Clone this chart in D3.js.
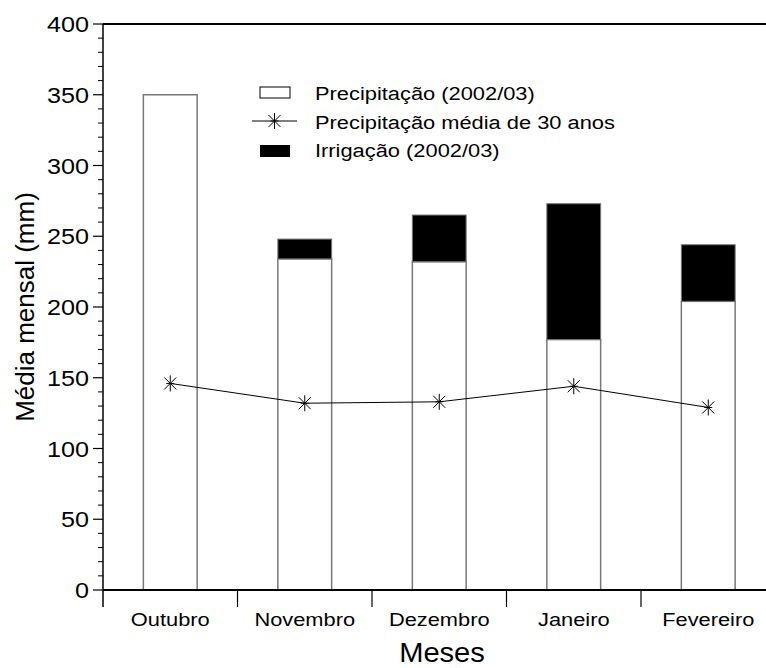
<!DOCTYPE html>
<html>
<head>
<meta charset="utf-8">
<script src="https://cdn.jsdelivr.net/npm/d3@7"></script>
<style>
  body { margin: 0; background: #fff; }
  text { font-family: "Liberation Sans", Arial, sans-serif; fill: #000; }
</style>
</head>
<body>
<div id="chart"></div>
<script>
var width = 766,
    height = 668;

// data
var months = ["Outubro", "Novembro", "Dezembro", "Janeiro", "Fevereiro"];
var precip = [350, 234, 232, 177, 204];
var irrig = [0, 14, 33, 96, 40];
var media30 = [146, 132, 133, 144, 129];
var yTicks = [0, 50, 100, 150, 200, 250, 300, 350, 400];
var legendLabels = ["Precipitação (2002/03)", "Precipitação média de 30 anos", "Irrigação (2002/03)"];

// plot box (right edge lies past the window, as in the original)
var pLeft = 103, pRight = 775.5, pTop = 24, pBottom = 590;
var sx = 1.15; // text in the original is a bit wide

var svg = d3.select('#chart')
    .append('svg')
    .attr('width', width)
    .attr('height', height);

var x = d3.scaleBand().domain(months).range([pLeft, pRight]).padding(0),
    y = d3.scaleLinear().domain([0, 400]).range([pBottom, pTop]);

var bw = x.bandwidth();

function label(g, tx, ty, str, size, anchor, s) {
    return g.append('text')
        .attr('transform', 'translate(' + tx + ',' + ty + ') scale(' + s + ',1)')
        .attr('text-anchor', anchor)
        .style('font-size', size + 'px')
        .text(str);
}

var data = months.map(function (m, i) {
    return {month: m, p: precip[i], irr: irrig[i], avg: media30[i]};
});

// white precipitation bars
svg.selectAll('rect.prec')
    .data(data)
    .enter()
    .append('rect')
    .attr('class', 'prec')
    .attr('x', function (d) { return x(d.month) + bw * 0.3; })
    .attr('width', bw * 0.4)
    .attr('y', function (d) { return y(d.p); })
    .attr('height', function (d) { return y(0) - y(d.p); })
    .attr('fill', '#fff')
    .attr('stroke', '#777')
    .attr('stroke-width', 1.5);

// irrigation stacked on top
svg.selectAll('rect.irr')
    .data(data.filter(function (d) { return d.irr > 0; }))
    .enter()
    .append('rect')
    .attr('class', 'irr')
    .attr('x', function (d) { return x(d.month) + bw * 0.3; })
    .attr('width', bw * 0.4)
    .attr('y', function (d) { return y(d.p + d.irr); })
    .attr('height', function (d) { return y(d.p) - y(d.p + d.irr); })
    .attr('fill', '#000')
    .attr('stroke', '#777')
    .attr('stroke-width', 1);

// 30-year mean line
var line = d3.line()
    .x(function (d) { return x(d.month) + bw / 2; })
    .y(function (d) { return y(d.avg); });

svg.append('path')
    .datum(data)
    .attr('d', line)
    .attr('fill', 'none')
    .attr('stroke', '#000')
    .attr('stroke-width', 1);

function star(g, cx, cy) {
    var r = 8, d = 6;
    var p = 'M' + cx + ',' + (cy - r) + 'V' + (cy + r) +
            'M' + (cx - d) + ',' + (cy - d) + 'L' + (cx + d) + ',' + (cy + d) +
            'M' + (cx - d) + ',' + (cy + d) + 'L' + (cx + d) + ',' + (cy - d) +
            'M' + (cx - 4) + ',' + cy + 'H' + (cx + 4);
    g.append('path').attr('d', p).attr('stroke', '#000').attr('stroke-width', 1).attr('fill', 'none');
}

data.forEach(function (d) {
    star(svg, x(d.month) + bw / 2, y(d.avg));
});

// axes
var axes = svg.append('g');

// top border
axes.append('line')
    .attr('x1', pLeft).attr('x2', pRight)
    .attr('y1', pTop).attr('y2', pTop)
    .attr('stroke', '#000').attr('stroke-width', 1.8);

// y axis line (runs below the x axis)
axes.append('line')
    .attr('x1', pLeft).attr('x2', pLeft)
    .attr('y1', pTop).attr('y2', pBottom + 17)
    .attr('stroke', '#000').attr('stroke-width', 1.5);

// x axis line
axes.append('line')
    .attr('x1', pLeft).attr('x2', pRight)
    .attr('y1', pBottom).attr('y2', pBottom)
    .attr('stroke', '#000').attr('stroke-width', 1.8);

// minor y ticks
axes.selectAll('line.minor')
    .data(d3.range(0, 401, 10).filter(function (v) { return v % 50 !== 0; }))
    .enter()
    .append('line')
    .attr('class', 'minor')
    .attr('x1', pLeft - 5).attr('x2', pLeft)
    .attr('y1', function (v) { return y(v); })
    .attr('y2', function (v) { return y(v); })
    .attr('stroke', '#000').attr('stroke-width', 1);

// major y ticks
axes.selectAll('line.major')
    .data(yTicks)
    .enter()
    .append('line')
    .attr('class', 'major')
    .attr('x1', pLeft - 10).attr('x2', pLeft)
    .attr('y1', function (v) { return y(v); })
    .attr('y2', function (v) { return y(v); })
    .attr('stroke', '#000').attr('stroke-width', 1.2);

yTicks.forEach(function (v) {
    label(axes, pLeft - 14, y(v) + 8, v, 22.5, 'end', 1.12);
});

// x ticks at category boundaries
axes.selectAll('line.xt')
    .data(months.slice(1))
    .enter()
    .append('line')
    .attr('class', 'xt')
    .attr('x1', function (m) { return x(m); })
    .attr('x2', function (m) { return x(m); })
    .attr('y1', pBottom).attr('y2', pBottom + 17)
    .attr('stroke', '#000').attr('stroke-width', 1.2);

months.forEach(function (m) {
    label(axes, x(m) + bw / 2, 626, m, 18.5, 'middle', 1.18);
});

// axis titles
label(axes, 442, 662, 'Meses', 28, 'middle', 1.04);
axes.append('text')
    .attr('transform', 'translate(34,' + ((pTop + pBottom) / 2) + ') rotate(-90)')
    .attr('text-anchor', 'middle')
    .style('font-size', '26px')
    .text('Média mensal (mm)');

// legend
var legend = svg.append('g');
legend.append('rect')
    .attr('x', 260).attr('y', 87).attr('width', 30).attr('height', 11)
    .attr('fill', '#fff').attr('stroke', '#000').attr('stroke-width', 1);
legend.append('line')
    .attr('x1', 252).attr('x2', 297).attr('y1', 121).attr('y2', 121)
    .attr('stroke', '#000').attr('stroke-width', 1);
star(legend, 274.5, 121);
legend.append('rect')
    .attr('x', 260).attr('y', 145).attr('width', 30).attr('height', 12)
    .attr('fill', '#000');

legendLabels.forEach(function (t, i) {
    label(legend, 315, 100 + i * 28.5, t, 19, 'start', sx);
});
</script>
</body>
</html>
